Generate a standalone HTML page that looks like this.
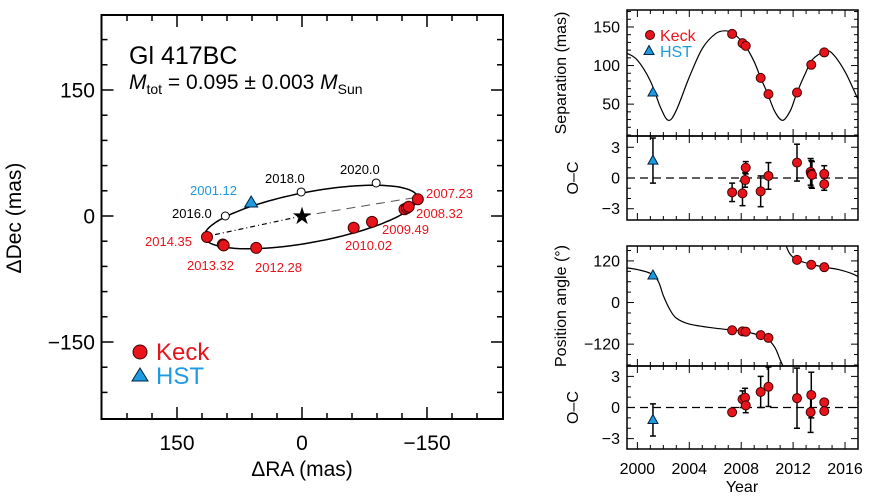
<!DOCTYPE html>
<html><head><meta charset="utf-8"><style>
html,body{margin:0;padding:0;background:#fff;}
svg{display:block;font-family:"Liberation Sans",Arial,sans-serif;}
</style></head><body>
<svg id="c" width="869" height="497" viewBox="0 0 869 497" xmlns="http://www.w3.org/2000/svg"></svg>
<script>
// ---------- data ----------
const keckLabels=["2007.23","2008.32","2008.32","2008.32","2009.49","2010.02","2012.28","2013.32","2013.32","2014.35"];
const keckRA=[-139,-123,-126,-128,-84,-62,55,95,94,114];
const keckDec=[20,8,9.5,11,-7,-14,-38,-34,-35,-25];
const hstRA=[61];const hstDec=[15.5];
const futureLabels=["2016.0","2018.0","2020.0"];
const futureRA=[92,1,-89];const futureDec=[0,28.6,39.3];
const orbitCenter=[-10.8,-1.2];const orbitAxes=[130,30];
const keckYears=[2007.3,2008.1,2008.35,2009.5,2010.1,2012.3,2013.4,2014.4];
const keckSep=[141,129,125.5,84,63,65,101,117];
const hstYears=[2001.2];const hstSep=[65];
const modelYears=[1999.2,2000,2001,2001.8,2002.4,2003,2004,2005,2006,2006.8,2007.5,2008.3,2009,2009.5,2010,2010.6,2011.2,2011.8,2012.3,2013,2013.5,2014.4,2015,2016,2017];
const modelSep=[116,107,80,45,29,42,85,122,141,145,140,126,105,84,65,40,29,42,65,92,108,118,116,92,56];
const sepOCYears=[2007.3,2008.1,2008.3,2008.35,2009.5,2010.1,2012.3,2013.35,2013.4,2013.45,2014.4,2014.4];
const sepOC=[-1.4,-1.5,-0.2,1.0,-1.3,0.2,1.5,0.6,0.4,0.3,0.4,-0.6];
const sepOCErr=[0.9,1.2,0.7,0.6,1.5,1.3,1.8,1.3,1.3,1.3,0.8,0.6];
const hstSepOC=[1.7];const hstSepOCErr=[2.2];
const keckPAYears=[2007.3,2008.1,2008.35,2009.5,2010.1,2012.3,2013.4,2014.4];
const keckPA=[-80,-83,-84,-94,-102,123,109,102];
const hstPA=[78];
const modelPAYearsA=[1999.2,2000,2001,2001.6,2002,2002.5,2003,2004,2006,2008,2009,2010,2010.6,2011,2011.3];
const modelPAA=[100,95,84,62,20,-20,-45,-62,-74,-82,-90,-104,-130,-165,-190];
const modelPAYearsB=[2011.3,2011.5,2011.8,2012.3,2013.4,2014.4,2015.5,2016.5,2017];
const modelPAB=[190,160,138,123,110,102,95,84,75];
const paOCYears=[2007.3,2008.1,2008.3,2008.35,2009.5,2010.1,2012.3,2013.4,2013.35,2014.4,2014.4];
const paOC=[-0.46,0.8,0.95,0.2,1.5,2.0,0.9,1.2,-0.45,0.5,-0.35];
const paOCErr=[0.1,0.8,0.9,0.7,1.5,1.9,2.9,2.2,1.95,0.3,0.3];
const hstPAOC=[-1.2];const hstPAOCErr=[1.55];

// ---------- helpers ----------
const S=document.getElementById('c');const NS="http://www.w3.org/2000/svg";
function el(t,a,p){const e=document.createElementNS(NS,t);for(const k in a)e.setAttribute(k,a[k]);(p||S).appendChild(e);return e;}
function txt(s,x,y,a,p){const e=el('text',Object.assign({x:x,y:y},a),p);e.textContent=s;return e;}
const RED="#e8141c",BLUE="#1e9be0";
function spline(xs,ys,fx,fy){let d="";const n=xs.length;for(let i=0;i<n;i++){
 const x=fx(xs[i]),y=fy(ys[i]);if(i===0){d+="M"+x+","+y;continue;}
 const x0=fx(xs[Math.max(0,i-2)]),y0=fy(ys[Math.max(0,i-2)]);const x1=fx(xs[i-1]),y1=fy(ys[i-1]);const x3=fx(xs[Math.min(n-1,i+1)]),y3=fy(ys[Math.min(n-1,i+1)]);
 d+=" C"+(x1+(x-x0)/6)+","+(y1+(y-y0)/6)+" "+(x-(x3-x1)/6)+","+(y-(y3-y1)/6)+" "+x+","+y;}return d;}

// ---------- left panel ----------
const ax=ra=>302-ra*0.8333, ay=de=>216-de*0.84;
const L={x0:101.5,x1:503,y0:15,y1:419};
let e;
e=el('rect',{x:L.x0,y:L.y0,width:L.x1-L.x0,height:L.y1-L.y0,fill:"none",stroke:"#000","stroke-width":2});

for(let v=-270;v<=270;v+=30){const big=v%150===0;const L2=big?12:6;
 const x=ax(v);if(x>L.x0+2&&x<L.x1-2){el('line',{x1:x,x2:x,y1:L.y1,y2:L.y1-L2,stroke:"#000","stroke-width":1.5});el('line',{x1:x,x2:x,y1:L.y0,y2:L.y0+L2,stroke:"#000","stroke-width":1.5});}
 const y=ay(v);if(y>L.y0+2&&y<L.y1-2){el('line',{x1:L.x0,x2:L.x0+L2,y1:y,y2:y,stroke:"#000","stroke-width":1.5});el('line',{x1:L.x1,x2:L.x1-L2,y1:y,y2:y,stroke:"#000","stroke-width":1.5});}}
[150,0,-150].forEach(v=>{e=txt(v<0?"\u2212150":String(v),ax(v),450,{"font-size":21,"text-anchor":"middle"});
 e=txt(v<0?"\u2212150":String(v),95,ay(v)+7.5,{"font-size":21,"text-anchor":"end"});});
e=txt("\u0394RA (mas)",302,476,{"font-size":21,"text-anchor":"middle"});
e=txt("\u0394Dec (mas)",0,0,{"font-size":21,"text-anchor":"middle",transform:"translate(21,218) rotate(-90)"});
e=txt("Gl 417BC",129,64,{"font-size":25});
e=el('text',{x:129,y:89,"font-size":21});
e.innerHTML='<tspan font-style="italic">M</tspan><tspan font-size="14" dy="5">tot</tspan><tspan dy="-5"> = 0.095 \u00b1 0.003 </tspan><tspan font-style="italic">M</tspan><tspan font-size="14" dy="5">Sun</tspan>';
{const ux=-0.983,uy=0.182,vx=0.182,vy=0.983;let d="";for(let i=0;i<=120;i++){const t=i/120*2*Math.PI;
 const ra=orbitCenter[0]+orbitAxes[0]*Math.cos(t)*ux+orbitAxes[1]*Math.sin(t)*vx;const de=orbitCenter[1]+orbitAxes[0]*Math.cos(t)*uy+orbitAxes[1]*Math.sin(t)*vy;
 d+=(i?"L":"M")+ax(ra).toFixed(1)+","+ay(de).toFixed(1);}
 e=el('path',{d:d,fill:"none",stroke:"#000","stroke-width":1.5});
 const pr=[orbitCenter[0]-orbitAxes[0]*ux,orbitCenter[1]-orbitAxes[0]*uy],ap=[orbitCenter[0]+orbitAxes[0]*ux,orbitCenter[1]+orbitAxes[0]*uy];
 e=el('line',{x1:ax(0),y1:ay(0),x2:ax(ap[0]),y2:ay(ap[1]),stroke:"#555","stroke-width":1,"stroke-dasharray":"9,6"});
 e=el('line',{x1:ax(0),y1:ay(0),x2:ax(pr[0]),y2:ay(pr[1]),stroke:"#000","stroke-width":1.2,"stroke-dasharray":"5,3,1,3"});}
e=txt("\u2605",ax(0),ay(0)+8,{"font-size":24,"text-anchor":"middle"});
futureRA.forEach((r,i)=>{e=el('circle',{cx:ax(r),cy:ay(futureDec[i]),r:4,fill:"#fff",stroke:"#000","stroke-width":1});});
const futPos=[[172,218],[265,183],[340,174]];
futureLabels.forEach((s,i)=>{e=txt(s,futPos[i][0],futPos[i][1],{"font-size":13});});
keckRA.forEach((r,i)=>{e=el('circle',{cx:ax(r),cy:ay(keckDec[i]),r:5.5,fill:RED,stroke:"#400",'stroke-width':1});});
e=el('path',{d:`M${ax(hstRA[0])},${ay(hstDec[0])-7}l6.5,11h-13z`,fill:BLUE,stroke:"#024","stroke-width":1});
const kl=[["2007.23",426,198],["2008.32",416,218],["2009.49",382,234],["2010.02",345,250],["2012.28",255,272],["2013.32",187,270],["2014.35",145,246]];
kl.forEach(k=>{e=txt(k[0],k[1],k[2],{"font-size":13,fill:RED});});
e=txt("2001.12",190,195,{"font-size":13,fill:BLUE});
e=el('circle',{cx:140,cy:352,r:7,fill:RED,stroke:"#400"});
e=txt("Keck",156,360,{"font-size":24,fill:RED});
e=el('path',{d:"M140,368l8,13h-16z",fill:BLUE,stroke:"#024"});
e=txt("HST",156,384,{"font-size":24,fill:BLUE});

// ---------- right panels ----------
const X0=627,X1=858,yr0=1999.2,yr1=2017.0;const tx=y=>X0+(y-yr0)/(yr1-yr0)*(X1-X0);
function panel(name,top,bot,vmin,vmax,ticks,minor,labels,title,ty){
 const fy=v=>bot-(v-vmin)/(vmax-vmin)*(bot-top);
 const cid="clip"+name;const cp=el('clipPath',{id:cid});el('rect',{x:X0,y:top,width:X1-X0,height:bot-top},cp);
 e=el('rect',{x:X0,y:top,width:X1-X0,height:bot-top,fill:"none",stroke:"#000","stroke-width":1.5});
 for(let y=2000;y<=2016;y++){const big=y%4===0,l=big?7:4;el('line',{x1:tx(y),x2:tx(y),y1:bot,y2:bot-l,stroke:"#000"});el('line',{x1:tx(y),x2:tx(y),y1:top,y2:top+l,stroke:"#000"});}
 minor.forEach(v=>{const big=ticks.includes(v),l=big?7:4;const y=fy(v);if(y<=top+1||y>=bot-1)return;el('line',{x1:X0,x2:X0+l,y1:y,y2:y,stroke:"#000"});el('line',{x1:X1,x2:X1-l,y1:y,y2:y,stroke:"#000"});});
 ticks.forEach((v,i)=>{e=txt(labels[i],620,fy(v)+5.5,{"font-size":16,"text-anchor":"end"});});
 e=txt(title,0,0,{"font-size":16,"text-anchor":"middle",transform:`translate(${ty},${(top+bot)/2}) rotate(-90)`});
 return {fy:fy,clip:"url(#"+cid+")"};}
function dot(x,y,n){e=el('circle',{cx:x,cy:y,r:4.5,fill:RED,stroke:"#400","stroke-width":1});}
function tri(x,y,n){e=el('path',{d:`M${x},${y-5.5}l5,9h-10z`,fill:BLUE,stroke:"#024","stroke-width":1});}
function errbar(x,y1,y2,cl){const g2=el('g',{"clip-path":cl});el('line',{x1:x,x2:x,y1:y1,y2:y2,stroke:"#000","stroke-width":1.5},g2);el('line',{x1:x-3,x2:x+3,y1:y1,y2:y1,stroke:"#000","stroke-width":1.5},g2);el('line',{x1:x-3,x2:x+3,y1:y2,y2:y2,stroke:"#000","stroke-width":1.5},g2);}
const P1=panel('separation',10,136,8.7,172,[50,100,150],[10,20,30,40,50,60,70,80,90,100,110,120,130,140,150,160,170],["50","100","150"],"Separation (mas)",566);
e=el('path',{d:spline(modelYears,modelSep,tx,P1.fy),fill:"none",stroke:"#000","stroke-width":1.2,"clip-path":P1.clip});
keckYears.forEach((y,i)=>dot(tx(y),P1.fy(keckSep[i]),'separation-keck-point'));
tri(tx(hstYears[0]),P1.fy(hstSep[0]),'separation-hst-point');
dot(650,35,'legend-keck-marker-right');e=txt("Keck",660,41,{"font-size":16,fill:RED});
tri(649,51,'legend-hst-marker-right');e=txt("HST",660,57,{"font-size":16,fill:BLUE});
const P2=panel('separation-oc',136,220,-4.1,4.1,[-3,0,3],[-3,-2,-1,0,1,2,3],["\u22123","0","3"],"O\u2013C",578);
el('line',{x1:X0,x2:X1,y1:P2.fy(0),y2:P2.fy(0),stroke:"#000","stroke-width":1.3,"stroke-dasharray":"8,5"});
sepOCYears.forEach((y,i)=>{errbar(tx(y),P2.fy(sepOC[i]+sepOCErr[i]),P2.fy(sepOC[i]-sepOCErr[i]),P2.clip);});
sepOCYears.forEach((y,i)=>dot(tx(y),P2.fy(sepOC[i]),'separation-residual-point'));
errbar(tx(hstYears[0]),P2.fy(hstSepOC[0]+hstSepOCErr[0]),P2.fy(hstSepOC[0]-hstSepOCErr[0]),P2.clip);tri(tx(hstYears[0]),P2.fy(hstSepOC[0]),'separation-hst-residual');
const P3=panel('position-angle',246,366,-183,163,[-120,0,120],[-180,-150,-120,-90,-60,-30,0,30,60,90,120,150],["\u2212120","0","120"],"Position angle (\u00b0)",566);
e=el('path',{d:spline(modelPAYearsA,modelPAA,tx,P3.fy)+" "+spline(modelPAYearsB,modelPAB,tx,P3.fy),fill:"none",stroke:"#000","stroke-width":1.2,"clip-path":P3.clip});
keckPAYears.forEach((y,i)=>dot(tx(y),P3.fy(keckPA[i]),'position-angle-keck-point'));
tri(tx(hstYears[0]),P3.fy(hstPA[0]),'position-angle-hst-point');
const P4=panel('position-angle-oc',366,449,-4.0,4.0,[-3,0,3],[-3,-2,-1,0,1,2,3],["\u22123","0","3"],"O\u2013C",578);
el('line',{x1:X0,x2:X1,y1:P4.fy(0),y2:P4.fy(0),stroke:"#000","stroke-width":1.3,"stroke-dasharray":"8,5"});
paOCYears.forEach((y,i)=>{errbar(tx(y),P4.fy(paOC[i]+paOCErr[i]),P4.fy(paOC[i]-paOCErr[i]),P4.clip);});
paOCYears.forEach((y,i)=>dot(tx(y),P4.fy(paOC[i]),'position-angle-residual-point'));
errbar(tx(hstYears[0]),P4.fy(hstPAOC[0]+hstPAOCErr[0]),P4.fy(hstPAOC[0]-hstPAOCErr[0]),P4.clip);tri(tx(hstYears[0]),P4.fy(hstPAOC[0]),'position-angle-hst-residual');
[2000,2004,2008,2012,2016].forEach(y=>{e=txt(String(y),tx(y),474,{"font-size":16,"text-anchor":"middle"});});
e=txt("Year",742,492,{"font-size":16,"text-anchor":"middle"});
</script>
</body></html>
